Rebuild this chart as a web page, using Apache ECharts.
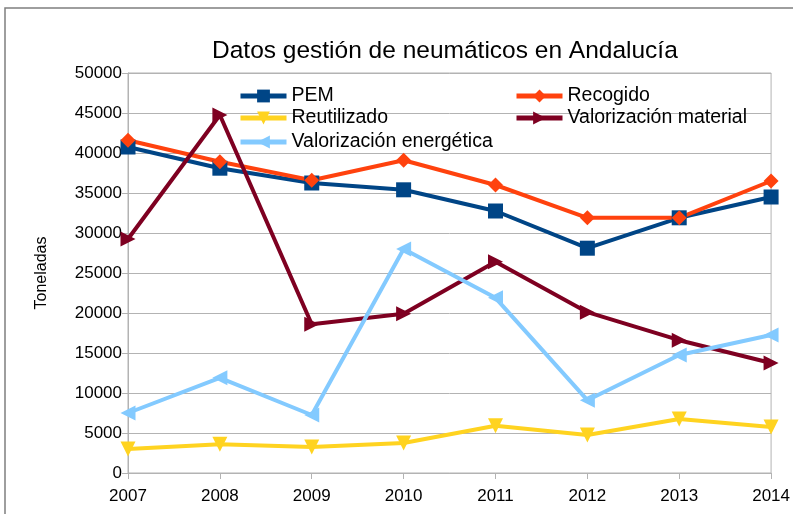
<!DOCTYPE html>
<html>
<head>
<meta charset="utf-8">
<script src="https://cdn.jsdelivr.net/npm/echarts@6/dist/echarts.min.js"></script>
<style>
  html, body { margin: 0; padding: 0; background: #fff; }
  #chart { width: 793px; height: 514px; }
</style>
</head>
<body>
<div id="chart"></div>
<script>
// años y valores (toneladas)
var years = ['2007', '2008', '2009', '2010', '2011', '2012', '2013', '2014'];
var pem = [40750, 38100, 36250, 35400, 32750, 28100, 31900, 34500];
var recogido = [41600, 38900, 36600, 39100, 36000, 31900, 31900, 36500];
var reutilizado = [3000, 3600, 3250, 3750, 5900, 4750, 6750, 5750];
var valMaterial = [29250, 44750, 18600, 19900, 26400, 20100, 16600, 13750];
var valEnergetica = [7500, 11900, 7250, 28000, 21900, 9100, 14750, 17250];

var font = 'Liberation Sans';
var dom = document.getElementById('chart');
var myChart = echarts.init(dom);

function legendAt(name, left, top) {
    return {
        data: [name],
        left: left,
        top: top,
        itemWidth: 46,
        itemHeight: 16,
        itemGap: 0,
        lineStyle: { width: 5 },
        textStyle: { fontFamily: font, fontSize: 19.5, color: '#000' }
    };
}

function lineSeries(name, data, color, symbol, rotate) {
    return {
        name: name,
        type: 'line',
        data: data,
        symbol: symbol,
        symbolSize: 15,
        symbolRotate: rotate,
        showAllSymbol: true,
        lineStyle: { color: color, width: 4 },
        itemStyle: { color: color },
        animation: false
    };
}

var option = {
    backgroundColor: '#fff',
    title: {
        text: 'Datos gestión de neumáticos en Andalucía',
        left: 207,
        top: 34,
        textStyle: { fontFamily: font, fontSize: 24.5, fontWeight: 'normal', color: '#000' }
    },
    graphic: [{
        type: 'rect',
        shape: { x: 5, y: 8, width: 800, height: 520 },
        style: { fill: 'none', stroke: '#7f7f7f', lineWidth: 1.5 }
    }],
    legend: [
        legendAt('PEM', 233, 81),
        legendAt('Recogido', 509, 81),
        legendAt('Reutilizado', 233, 103),
        legendAt('Valorización material', 509, 103),
        legendAt('Valorización energética', 233, 127)
    ],
    grid: {
        left: 128,
        right: 20,
        top: 73,
        bottom: 41,
        show: true,
        borderColor: '#b3b3b3',
        borderWidth: 1
    },
    xAxis: {
        type: 'category',
        boundaryGap: false,
        data: years,
        axisLine: { lineStyle: { color: '#b3b3b3', width: 1 } },
        axisTick: { show: true, length: 6, lineStyle: { color: '#b3b3b3' } },
        axisLabel: { fontFamily: font, fontSize: 17, color: '#000', margin: 15 }
    },
    yAxis: {
        type: 'value',
        min: 0,
        max: 50000,
        interval: 5000,
        name: 'Toneladas',
        nameLocation: 'middle',
        nameGap: 78,
        nameTextStyle: { fontFamily: font, fontSize: 16, color: '#000' },
        axisLine: { show: true, lineStyle: { color: '#b3b3b3', width: 1 } },
        axisTick: { show: true, length: 6, lineStyle: { color: '#b3b3b3' } },
        axisLabel: {
            fontFamily: font, fontSize: 17, color: '#000', margin: 6,
            formatter: function (v) { return String(v); }
        },
        splitLine: { lineStyle: { color: '#b3b3b3', width: 1 } }
    },
    series: [
        lineSeries('PEM', pem, '#004586', 'rect', 0),
        lineSeries('Recogido', recogido, '#ff420e', 'diamond', 0),
        lineSeries('Reutilizado', reutilizado, '#ffd320', 'triangle', 180),
        lineSeries('Valorización material', valMaterial, '#7e0021', 'triangle', -90),
        lineSeries('Valorización energética', valEnergetica, '#83caff', 'triangle', 90)
    ]
};

if (option && typeof option === 'object') {
    myChart.setOption(option, true);
}
</script>
</body>
</html>
